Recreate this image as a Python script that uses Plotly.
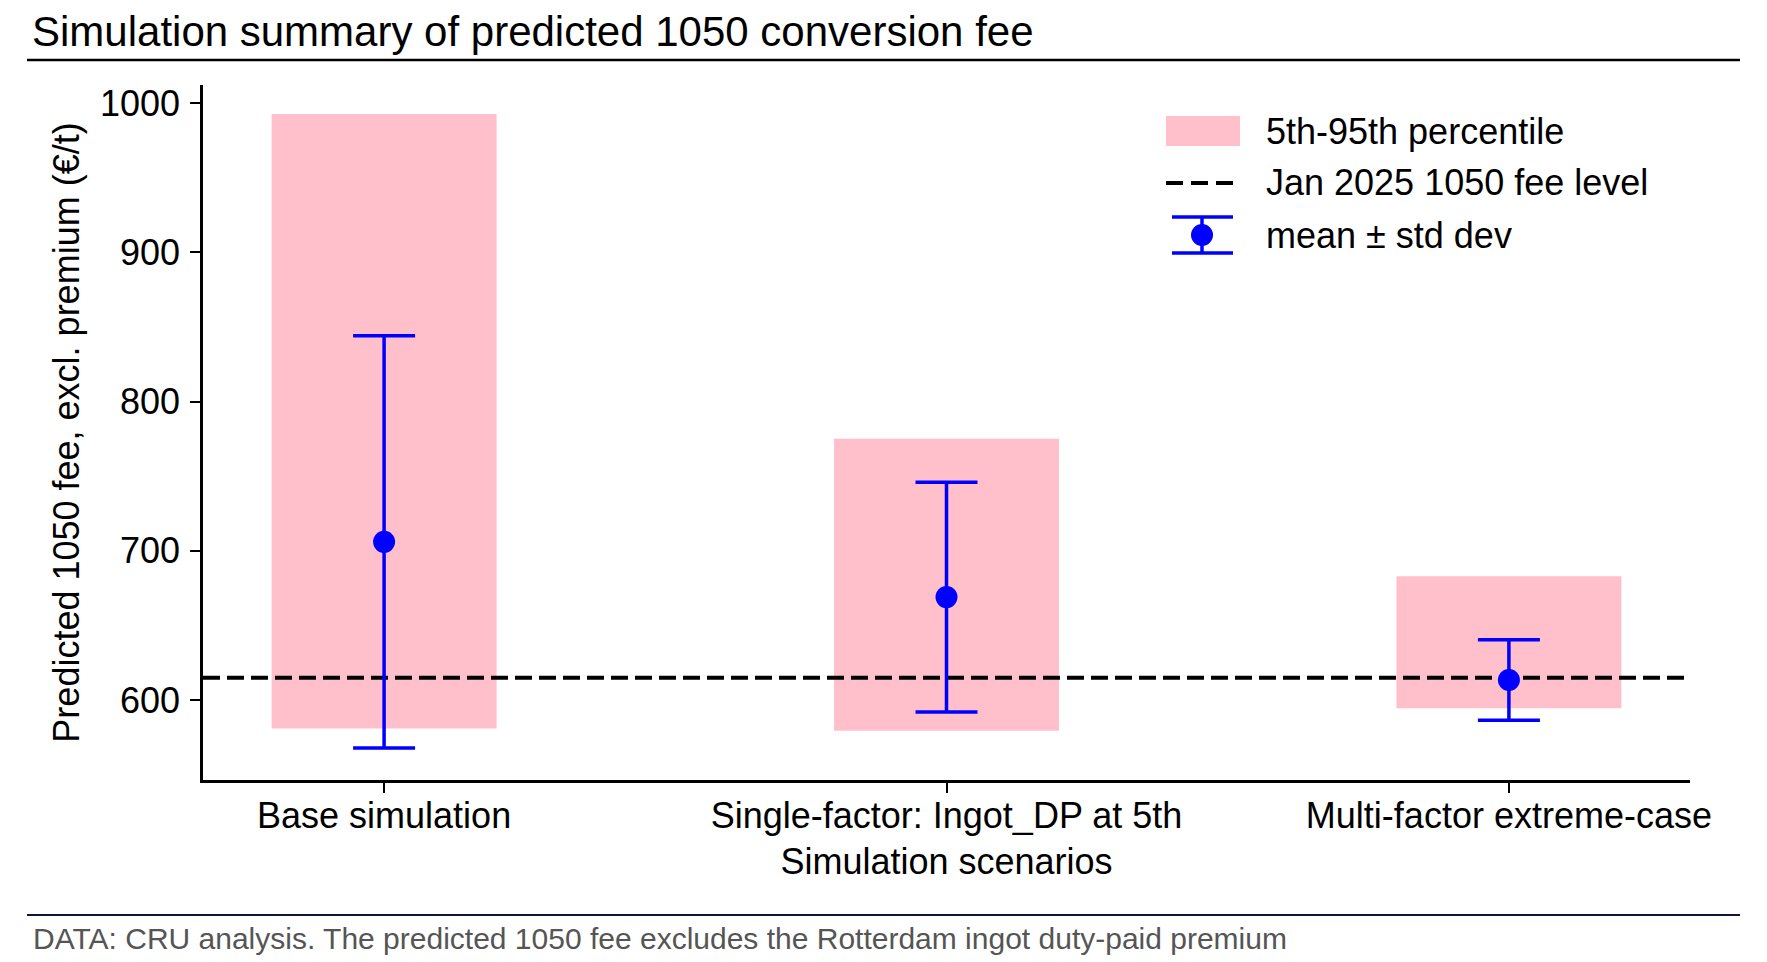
import plotly.graph_objects as go

'''
Simulation summary of the predicted 1050 conversion fee:
5th-95th percentile band, mean +/- std dev and the Jan 2025 fee level.
'''

scenarios = ["Base simulation", "Single-factor: Ingot_DP at 5th", "Multi-factor extreme-case"]
p5 = [581, 579.5, 594.5]
p95 = [992.5, 775, 683]
mean_fee = [706, 669, 613.5]
std_fee = [138, 77, 27]
jan_2025_fee = 615

FONT = "Liberation Sans, Arial, sans-serif"
# the page body adds an 8px margin, so the figure is shrunk and shifted to fit the window
OFFSET = 8
WIN_W, WIN_H = 1767, 962
W, H = WIN_W - OFFSET, WIN_H - OFFSET
# plot area in window pixels
PLOT_L, PLOT_R, PLOT_T, PLOT_B = 203, 1690, 85, 780
X_RANGE = [-0.322, 2.322]


def px_x(px):
    return (px - PLOT_L) / (PLOT_R - PLOT_L)


def px_y(py):
    return (PLOT_B - py) / (PLOT_B - PLOT_T)


xpos = list(range(len(scenarios)))

fig = go.Figure()

fig.add_trace(
    go.Bar(
        x=xpos,
        y=[hi - lo for hi, lo in zip(p95, p5)],
        base=p5,
        width=0.4,
        marker=dict(color="#FFC0CB", line=dict(width=0)),
        name="5th-95th percentile",
    ))

fig.add_trace(
    go.Scatter(
        x=X_RANGE,
        y=[jan_2025_fee, jan_2025_fee],
        mode="lines",
        line=dict(color="black", width=4, dash="17px,7px"),
        name="Jan 2025 1050 fee level",
    ))

fig.add_trace(
    go.Scatter(
        x=xpos,
        y=mean_fee,
        mode="markers",
        marker=dict(color="#0000FF", size=22),
        error_y=dict(type="data", array=std_fee, color="#0000FF", thickness=3.5, width=31),
        name="mean \u00b1 std dev",
    ))

# hand-drawn legend (matplotlib style)
leg_x0, leg_x1, leg_xc = 1166, 1240, 1202
rows = [131, 183, 235]
shapes = [
    dict(type="rect", xref="paper", yref="paper",
         x0=px_x(leg_x0), x1=px_x(leg_x1), y0=px_y(rows[0] + 15), y1=px_y(rows[0] - 15),
         fillcolor="#FFC0CB", line=dict(width=0)),
    dict(type="line", xref="paper", yref="paper",
         x0=px_x(leg_x0), x1=px_x(1236), y0=px_y(rows[1]), y1=px_y(rows[1]),
         line=dict(color="black", width=4, dash="17px,8px")),
    dict(type="line", xref="paper", yref="paper",
         x0=px_x(leg_xc), x1=px_x(leg_xc), y0=px_y(rows[2] - 18), y1=px_y(rows[2] + 18),
         line=dict(color="#0000FF", width=3.5)),
    dict(type="line", xref="paper", yref="paper",
         x0=px_x(1172), x1=px_x(1233), y0=px_y(rows[2] - 18), y1=px_y(rows[2] - 18),
         line=dict(color="#0000FF", width=3.5)),
    dict(type="line", xref="paper", yref="paper",
         x0=px_x(1172), x1=px_x(1233), y0=px_y(rows[2] + 18), y1=px_y(rows[2] + 18),
         line=dict(color="#0000FF", width=3.5)),
    dict(type="circle", xref="paper", yref="paper",
         x0=px_x(leg_xc - 11), x1=px_x(leg_xc + 11), y0=px_y(rows[2] + 11), y1=px_y(rows[2] - 11),
         fillcolor="#0000FF", line=dict(width=0)),
    # title underline and footer rule
    dict(type="line", xref="paper", yref="paper",
         x0=px_x(27), x1=px_x(1740), y0=px_y(60), y1=px_y(60),
         line=dict(color="black", width=2.5)),
    dict(type="line", xref="paper", yref="paper",
         x0=px_x(27), x1=px_x(1740), y0=px_y(915), y1=px_y(915),
         line=dict(color="#0d1733", width=2)),
]

annotations = [
    dict(xref="paper", yref="paper", x=px_x(1264), y=px_y(r), xanchor="left", yanchor="middle",
         text=t, showarrow=False, font=dict(family=FONT, size=36, color="black"))
    for r, t in zip(rows, ["5th-95th percentile", "Jan 2025 1050 fee level", "mean \u00b1 std dev"])
]
annotations.append(
    dict(xref="paper", yref="paper", x=px_x(31), y=px_y(938), xanchor="left", yanchor="middle",
         text="DATA: CRU analysis. The predicted 1050 fee excludes the Rotterdam ingot duty-paid premium",
         showarrow=False, font=dict(family=FONT, size=30, color="#555555")))

fig.update_layout(
    width=W,
    height=H,
    autosize=False,
    plot_bgcolor="white",
    paper_bgcolor="white",
    showlegend=False,
    margin=dict(l=PLOT_L - OFFSET, r=WIN_W - PLOT_R, t=PLOT_T - OFFSET, b=WIN_H - PLOT_B, pad=0),
    font=dict(family=FONT, size=36, color="black"),
    title=dict(
        text="Simulation summary of predicted 1050 conversion fee",
        x=(32 - OFFSET) / W, xanchor="left",
        y=1 - (31 - OFFSET) / H, yanchor="middle",
        font=dict(family=FONT, size=42, color="black"),
    ),
    xaxis=dict(
        range=X_RANGE,
        tickmode="array",
        tickvals=xpos,
        ticktext=scenarios,
        ticks="outside",
        ticklen=10,
        tickwidth=2,
        tickcolor="black",
        showline=True,
        linecolor="black",
        linewidth=2.5,
        showgrid=False,
        zeroline=False,
        ticklabelstandoff=-8,
        title=dict(text="Simulation scenarios", standoff=14, font=dict(size=36)),
    ),
    yaxis=dict(
        range=[546.5, 1012],
        tickmode="array",
        tickvals=[600, 700, 800, 900, 1000],
        ticks="outside",
        ticklen=10,
        tickwidth=2,
        tickcolor="black",
        showline=True,
        linecolor="black",
        linewidth=2.5,
        showgrid=False,
        zeroline=False,
        ticklabelstandoff=3,
        title=dict(text="Predicted 1050 fee, excl. premium (\u20ac/t)", standoff=10, font=dict(size=36)),
    ),
    shapes=shapes,
    annotations=annotations,
)

fig.write_html("out.html")
